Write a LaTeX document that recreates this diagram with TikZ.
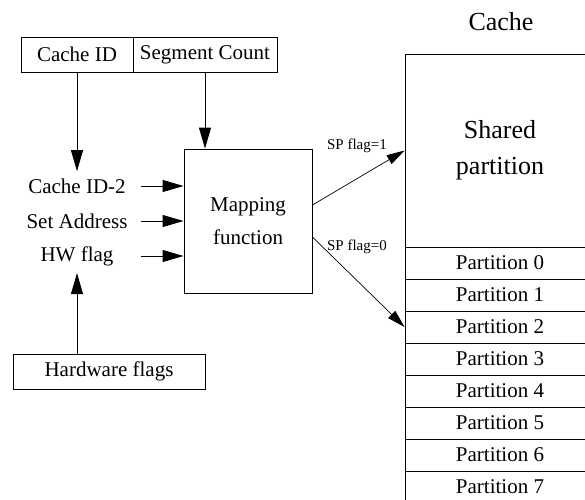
\documentclass[tikz,border=0pt]{standalone}
\usepackage{fontspec}
\setmainfont{Liberation Serif}
\usetikzlibrary{arrows.meta,calc}
\begin{document}
\begin{tikzpicture}[x=1pt,y=-1pt,
  line width=0.9pt,
  tip/.style={-{Triangle[length=21pt,width=12pt]}},
  thin tip/.style={-{Triangle[length=18pt,width=10pt]}},
  box/.style={draw,inner sep=0pt,font=\fontsize{21}{25}\selectfont},
  lbl/.style={inner xsep=0pt,inner ysep=7pt,minimum width=128pt,font=\fontsize{21}{25}\selectfont},
  row/.style={draw,inner sep=0pt,minimum width=190pt,minimum height=32pt,font=\fontsize{21}{25}\selectfont},
  flag/.style={inner sep=0pt,font=\fontsize{15}{18}\selectfont}]
\useasboundingbox (0,0) rectangle (585,499);
\clip (0,0) rectangle (585,499);

% inputs on top
\node[box,minimum width=112pt,minimum height=35pt] (cacheid) at (77,54.5) {Cache ID};
\node[box,minimum width=144pt,minimum height=35pt] (segcount) at (205,54.5) {Segment Count};

% mapping function block
\node[box,minimum width=128pt,minimum height=144pt,align=center,
      font=\fontsize{21}{33}\selectfont] (map) at (248,221) {Mapping\\function};

% signals entering the mapping function
\node[lbl] (cid2) at (77,186) {Cache ID-2};
\node[lbl] (setaddr) at (77,221) {Set Address};
\node[lbl] (hwflag) at (77,256) {HW flag};

\node[box,minimum width=192pt,minimum height=35pt] (hw) at (109,371.5) {Hardware flags};

\draw[tip] (cacheid.south) -- (cid2.north);
\draw[tip] (segcount.south) -- (segcount.south |- map.north);
\draw[tip] (cid2.east) -- (map.west |- cid2);
\draw[tip] (setaddr.east) -- (map.west |- setaddr);
\draw[tip] (hwflag.east) -- (map.west |- hwflag);
\draw[tip] (hwflag.south |- hw.north) -- (hwflag.south);

% cache layout
\node[font=\fontsize{26}{30}\selectfont] (cachetitle) at (501,22) {Cache};
\node[row,minimum height=193pt,align=center,font=\fontsize{26}{36}\selectfont] (shared) at (500,150.5) {Shared\\partition};
\foreach \i in {0,...,7}{
  \node[row] (p\i) at (500,{263+32*\i}) {Partition \i};
}

% routing by the SP flag
\coordinate (out1) at ($(map.east)+(0,-16)$);
\coordinate (out0) at ($(map.east)+(0,16)$);
\draw[thin tip,line width=0.7pt] (out1) -- (shared.west);
\draw[thin tip,line width=0.7pt] (out0) -- (p2.west);
\node[flag] (sp1) at (357,146) {SP flag=1};
\node[flag] (sp0) at (357,247) {SP flag=0};
\end{tikzpicture}
\end{document}
